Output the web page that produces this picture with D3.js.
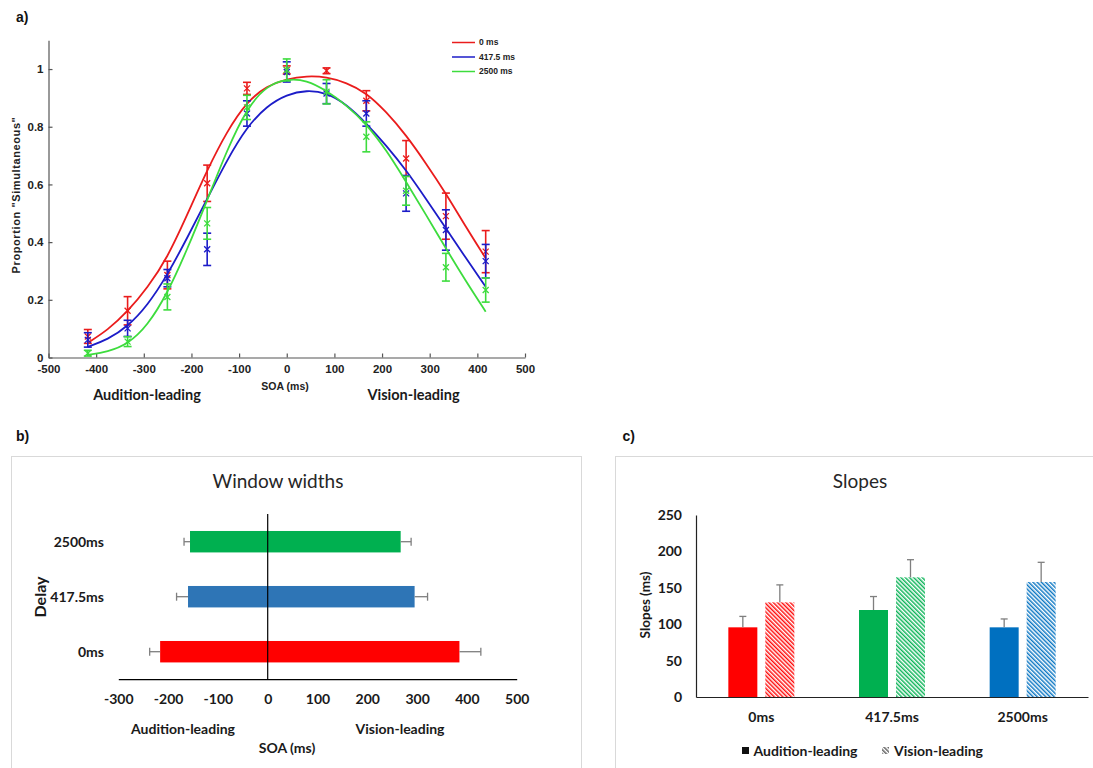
<!DOCTYPE html>
<html>
<head>
<meta charset="utf-8">
<script src="https://cdn.jsdelivr.net/npm/d3@7"></script>
<style>
  body { margin: 0; background: #fff; }
  svg { display: block; }
</style>
</head>
<body>
<svg id="fig" width="1093" height="768"></svg>
<script>
// ---------- (a) simultaneity judgements by SOA ----------
const soa = [-417.5, -334, -250.5, -167, -83.5, 0, 83.5, 167, 250.5, 334, 417.5];
const delayLegend = ["0 ms", "417.5 ms", "2500 ms"];

const pSim0    = [0.073, 0.162, 0.286, 0.604, 0.933, 0.997, 0.994, 0.890, 0.690, 0.490, 0.367];
const pErr0    = [0.024, 0.049, 0.048, 0.063, 0.021, 0.014, 0.010, 0.035, 0.062, 0.080, 0.073];
const pSim417  = [0.061, 0.101, 0.275, 0.375, 0.846, 0.990, 0.915, 0.846, 0.569, 0.442, 0.334];
const pErr417  = [0.025, 0.028, 0.030, 0.056, 0.044, 0.035, 0.035, 0.044, 0.062, 0.070, 0.058];
const pSim2500 = [0.015, 0.055, 0.210, 0.465, 0.867, 0.997, 0.921, 0.765, 0.578, 0.313, 0.234];
const pErr2500 = [0.010, 0.017, 0.045, 0.055, 0.042, 0.038, 0.042, 0.052, 0.050, 0.048, 0.042];

// fitted psychometric curves, sampled along SOA
const fitSoa = [-417.5, -375.75, -334, -292.25, -250.5, -208.75, -167, -125.25, -83.5, -41.75, 0,
                41.75, 83.5, 125.25, 167, 208.75, 250.5, 292.25, 334, 375.75, 417.5];
const fit0    = [0.051, 0.095, 0.159, 0.242, 0.345, 0.495, 0.650, 0.785, 0.887, 0.942, 0.966,
                 0.976, 0.973, 0.953, 0.918, 0.852, 0.771, 0.673, 0.569, 0.453, 0.344];
const fit417  = [0.037, 0.062, 0.107, 0.180, 0.286, 0.415, 0.550, 0.685, 0.800, 0.872, 0.912,
                 0.927, 0.918, 0.878, 0.812, 0.735, 0.650, 0.550, 0.448, 0.345, 0.245];
const fit2500 = [0.009, 0.020, 0.046, 0.110, 0.222, 0.375, 0.545, 0.720, 0.865, 0.943, 0.966,
                 0.962, 0.925, 0.875, 0.810, 0.720, 0.609, 0.495, 0.378, 0.265, 0.159];

const xTicksA = [-500, -400, -300, -200, -100, 0, 100, 200, 300, 400, 500];
const yTicksA = [0, 0.2, 0.4, 0.6, 0.8, 1];

// ---------- (b) window widths ----------
const delays = ["0ms", "417.5ms", "2500ms"];
const widthAud    = [-216, -160, -156];
const widthAudErr = [21, 23, 12];
const widthVis    = [385, 295, 267];
const widthVisErr = [43, 26, 21];
const xTicksB = [-300, -200, -100, 0, 100, 200, 300, 400, 500];

// ---------- (c) slopes ----------
const slopeAud    = [95.7, 119.5, 95.7];
const slopeAudErr = [15, 18.5, 11.5];
const slopeVis    = [130, 164.4, 158];
const slopeVisErr = [24, 24.2, 27];
const yTicksC = [0, 50, 100, 150, 200, 250];
const sides = ["Audition-leading", "Vision-leading"];

// ---------- drawing ----------
const svg = d3.select("#fig");
const ARIAL = "'Liberation Sans', Arial, sans-serif";
const CAL = "Lato, 'Open Sans', sans-serif";
const lineColA = ["#ea1c1c", "#1c1cc8", "#3ddc3d"];
const barColB = ["#ff0000", "#2e75b6", "#00b050"];
const barColC = ["#ff0000", "#00b050", "#0070c0"];
const plain = d => String(d);   // hyphen-minus labels, no trailing zeros

// ===== panel a =====
const gA = svg.append("g");
const xA = d3.scaleLinear().domain([-500, 500]).range([48.5, 525]);
const yA = d3.scaleLinear().domain([0, 1.1]).range([357.5, 40.2]);

const axA = gA.append("g").attr("transform", `translate(0,${yA(0)})`)
  .call(d3.axisBottom(xA).tickValues(xTicksA).tickFormat(plain)
    .tickSizeInner(-4).tickSizeOuter(0).tickPadding(7));
const ayA = gA.append("g").attr("transform", `translate(${xA(-500)},0)`)
  .call(d3.axisLeft(yA).tickValues(yTicksA).tickFormat(plain)
    .tickSizeInner(-4).tickSizeOuter(0).tickPadding(5));
[axA, ayA].forEach(a => {
  a.selectAll("path,line").attr("stroke", "#555").attr("stroke-width", 1.2);
  a.selectAll("text").attr("font-family", ARIAL).attr("font-weight", "bold")
    .attr("font-size", 11.5).attr("fill", "#222");
});

const seriesA = [
  { mean: pSim0, err: pErr0, fit: fit0 },
  { mean: pSim417, err: pErr417, fit: fit417 },
  { mean: pSim2500, err: pErr2500, fit: fit2500 }
];
const curve = d3.line().x(d => xA(d[0])).y(d => yA(d[1])).curve(d3.curveBasis);
seriesA.forEach((s, k) => {
  const col = lineColA[k];
  const g = gA.append("g").attr("stroke", col).attr("fill", "none").attr("stroke-width", 1.6);
  soa.forEach((x, i) => {
    const cx = xA(x), lo = yA(s.mean[i] - s.err[i]), hi = yA(s.mean[i] + s.err[i]), cy = yA(s.mean[i]);
    g.append("line").attr("x1", cx).attr("x2", cx).attr("y1", lo).attr("y2", hi);
    g.append("line").attr("x1", cx - 4).attr("x2", cx + 4).attr("y1", lo).attr("y2", lo);
    g.append("line").attr("x1", cx - 4).attr("x2", cx + 4).attr("y1", hi).attr("y2", hi);
    g.append("path").attr("stroke-width", 1.3)
      .attr("d", `M${cx - 3},${cy - 3}L${cx + 3},${cy + 3}M${cx - 3},${cy + 3}L${cx + 3},${cy - 3}`);
  });
  g.append("path").attr("stroke-width", 1.8).attr("d", curve(fitSoa.map((x, i) => [x, s.fit[i]])));
});

// legend
const legA = gA.append("g");
delayLegend.forEach((name, k) => {
  const y = 42.5 + k * 14.5;
  legA.append("line").attr("x1", 452).attr("x2", 475).attr("y1", y).attr("y2", y)
    .attr("stroke", lineColA[k]).attr("stroke-width", 1.5);
  legA.append("text").attr("x", 479).attr("y", y).attr("dy", "0.35em")
    .attr("font-family", ARIAL).attr("font-weight", "bold").attr("font-size", 8.5)
    .attr("fill", "#222").text(name);
});

gA.append("text").attr("x", 16).attr("y", 22).attr("font-family", ARIAL).attr("font-weight", "bold")
  .attr("font-size", 14).attr("fill", "#111").text("a)");
gA.append("text").attr("transform", "translate(20,195) rotate(-90)").attr("text-anchor", "middle")
  .attr("font-family", ARIAL).attr("font-weight", "bold").attr("font-size", 11)
  .attr("letter-spacing", 0.6).attr("fill", "#222")
  .text("Proportion \"Simultaneous\"");
gA.append("text").attr("x", 285).attr("y", 389.5).attr("text-anchor", "middle")
  .attr("font-family", ARIAL).attr("font-weight", "bold").attr("font-size", 10.5).attr("fill", "#222")
  .text("SOA (ms)");
gA.append("text").attr("x", 147).attr("y", 400).attr("text-anchor", "middle")
  .attr("font-family", CAL).attr("font-weight", "bold").attr("font-size", 14.5).attr("fill", "#1a1a1a")
  .text("Audition-leading");
gA.append("text").attr("x", 413.5).attr("y", 400).attr("text-anchor", "middle")
  .attr("font-family", CAL).attr("font-weight", "bold").attr("font-size", 14.5).attr("fill", "#1a1a1a")
  .text("Vision-leading");

// ===== panel b =====
const gB = svg.append("g");
gB.append("text").attr("x", 16).attr("y", 441).attr("font-family", ARIAL).attr("font-weight", "bold")
  .attr("font-size", 14).attr("fill", "#111").text("b)");
gB.append("rect").attr("x", 11.5).attr("y", 456.5).attr("width", 570).attr("height", 330)
  .attr("fill", "#fff").attr("stroke", "#d9d9d9");
gB.append("text").attr("x", 278).attr("y", 488).attr("text-anchor", "middle")
  .attr("font-family", CAL).attr("font-size", 19).attr("fill", "#262626").text("Window widths");

const xB = d3.scaleLinear().domain([-300, 500]).range([118.3, 516.7]);
const yB = d3.scaleBand().domain(delays.slice().reverse()).range([514.2, 679.2])
  .paddingInner(0.61).paddingOuter(0.305);

delays.forEach((d, i) => {
  const y0 = yB(d), h = yB.bandwidth(), cy = y0 + h / 2;
  gB.append("rect").attr("x", xB(widthAud[i])).attr("y", y0)
    .attr("width", xB(widthVis[i]) - xB(widthAud[i])).attr("height", h).attr("fill", barColB[i]);
  const eb = gB.append("g").attr("stroke", "#7f7f7f").attr("stroke-width", 1.3);
  const a0 = xB(widthAud[i]), a1 = xB(widthAud[i] - widthAudErr[i]);
  const v0 = xB(widthVis[i]), v1 = xB(widthVis[i] + widthVisErr[i]);
  eb.append("line").attr("x1", a0).attr("x2", a1).attr("y1", cy).attr("y2", cy);
  eb.append("line").attr("x1", a1).attr("x2", a1).attr("y1", cy - 4).attr("y2", cy + 4);
  eb.append("line").attr("x1", v0).attr("x2", v1).attr("y1", cy).attr("y2", cy);
  eb.append("line").attr("x1", v1).attr("x2", v1).attr("y1", cy - 4).attr("y2", cy + 4);
  gB.append("text").attr("x", 104).attr("y", cy).attr("dy", "0.35em").attr("text-anchor", "end")
    .attr("font-family", CAL).attr("font-weight", "bold").attr("font-size", 14).attr("fill", "#1a1a1a")
    .text(d);
});
// zero line and x axis
gB.append("line").attr("x1", xB(0)).attr("x2", xB(0)).attr("y1", 514).attr("y2", 679.2)
  .attr("stroke", "#000").attr("stroke-width", 1.2);
const axB = gB.append("g").attr("transform", "translate(0,679.2)")
  .call(d3.axisBottom(xB).tickValues(xTicksB).tickFormat(plain).tickSize(0).tickPadding(15));
axB.select(".domain").attr("stroke", "#000").attr("stroke-width", 1.3);
axB.selectAll("text").attr("font-family", CAL).attr("font-weight", "bold").attr("font-size", 14)
  .attr("fill", "#1a1a1a");
gB.append("text").attr("transform", "translate(46,597) rotate(-90)").attr("text-anchor", "middle")
  .attr("font-family", CAL).attr("font-weight", "bold").attr("font-size", 16).attr("fill", "#1a1a1a")
  .text("Delay");
gB.append("text").attr("x", 183).attr("y", 733.5).attr("text-anchor", "middle")
  .attr("font-family", CAL).attr("font-weight", "bold").attr("font-size", 14).attr("fill", "#1a1a1a")
  .text("Audition-leading");
gB.append("text").attr("x", 400).attr("y", 733.5).attr("text-anchor", "middle")
  .attr("font-family", CAL).attr("font-weight", "bold").attr("font-size", 14).attr("fill", "#1a1a1a")
  .text("Vision-leading");
gB.append("text").attr("x", 287).attr("y", 753).attr("text-anchor", "middle")
  .attr("font-family", CAL).attr("font-weight", "bold").attr("font-size", 14).attr("fill", "#1a1a1a")
  .text("SOA (ms)");

// ===== panel c =====
const gC = svg.append("g");
gC.append("text").attr("x", 622.5).attr("y", 441).attr("font-family", ARIAL).attr("font-weight", "bold")
  .attr("font-size", 14).attr("fill", "#111").text("c)");
gC.append("rect").attr("x", 615.5).attr("y", 456.5).attr("width", 500).attr("height", 330)
  .attr("fill", "#fff").attr("stroke", "#d9d9d9");
gC.append("text").attr("x", 860).attr("y", 488).attr("text-anchor", "middle")
  .attr("font-family", CAL).attr("font-size", 19).attr("fill", "#262626").text("Slopes");

// hatch patterns for the vision-leading bars
const defs = svg.append("defs");
const hatch = (id, col) => {
  const p = defs.append("pattern").attr("id", id).attr("patternUnits", "userSpaceOnUse")
    .attr("width", 3).attr("height", 3).attr("patternTransform", "rotate(-45)");
  p.append("rect").attr("width", 3).attr("height", 3).attr("fill", "#fff");
  p.append("line").attr("x1", 0.75).attr("x2", 0.75).attr("y1", 0).attr("y2", 3)
    .attr("stroke", col).attr("stroke-width", 1.4);
};
barColC.forEach((c, i) => hatch("hatch" + i, c));
hatch("hatchKey", "#555");

const xC = d3.scaleBand().domain(delays).range([696, 1088]).paddingInner(0.495).paddingOuter(0.2475);
const xSub = d3.scaleBand().domain(sides).range([0, xC.bandwidth()]).paddingInner(8 / 37);
const yC = d3.scaleLinear().domain([0, 250]).range([697, 515]);

delays.forEach((d, i) => {
  const gx = xC(d);
  const vals = [[slopeAud[i], slopeAudErr[i], barColC[i]], [slopeVis[i], slopeVisErr[i], `url(#hatch${i})`]];
  vals.forEach(([v, e, fill], j) => {
    const bx = gx + xSub(sides[j]), bw = xSub.bandwidth();
    gC.append("rect").attr("x", bx).attr("y", yC(v)).attr("width", bw).attr("height", yC(0) - yC(v))
      .attr("fill", fill);
    const cx = bx + bw / 2;
    gC.append("line").attr("x1", cx).attr("x2", cx).attr("y1", yC(v)).attr("y2", yC(v + e))
      .attr("stroke", "#7f7f7f").attr("stroke-width", 1.3);
    gC.append("line").attr("x1", cx - 3.5).attr("x2", cx + 3.5).attr("y1", yC(v + e)).attr("y2", yC(v + e))
      .attr("stroke", "#7f7f7f").attr("stroke-width", 1.3);
  });
});

const ayC = gC.append("g").attr("transform", "translate(696,0)")
  .call(d3.axisLeft(yC).tickValues(yTicksC).tickFormat(plain).tickSize(0).tickPadding(14));
ayC.select(".domain").attr("stroke", "#222").attr("stroke-width", 1.2);
ayC.selectAll("text").attr("font-family", CAL).attr("font-weight", "bold").attr("font-size", 14)
  .attr("fill", "#1a1a1a");
const axC = gC.append("g").attr("transform", "translate(0,697)")
  .call(d3.axisBottom(xC).tickSize(0).tickPadding(15));
axC.select(".domain").attr("stroke", "#222").attr("stroke-width", 1.2);
axC.selectAll("text").attr("font-family", CAL).attr("font-weight", "bold").attr("font-size", 14)
  .attr("fill", "#1a1a1a");
gC.append("text").attr("transform", "translate(650,605) rotate(-90)").attr("text-anchor", "middle")
  .attr("font-family", CAL).attr("font-weight", "bold").attr("font-size", 13.5).attr("fill", "#1a1a1a")
  .text("Slopes (ms)");

// legend
gC.append("rect").attr("x", 742).attr("y", 747).attr("width", 7).attr("height", 7).attr("fill", "#111");
gC.append("text").attr("x", 753.5).attr("y", 755.5).attr("font-family", CAL).attr("font-weight", "bold")
  .attr("font-size", 14).attr("fill", "#1a1a1a").text(sides[0]);
gC.append("rect").attr("x", 882).attr("y", 747).attr("width", 7).attr("height", 7).attr("fill", "url(#hatchKey)");
gC.append("text").attr("x", 894).attr("y", 755.5).attr("font-family", CAL).attr("font-weight", "bold")
  .attr("font-size", 14).attr("fill", "#1a1a1a").text(sides[1]);
</script>
</body>
</html>
